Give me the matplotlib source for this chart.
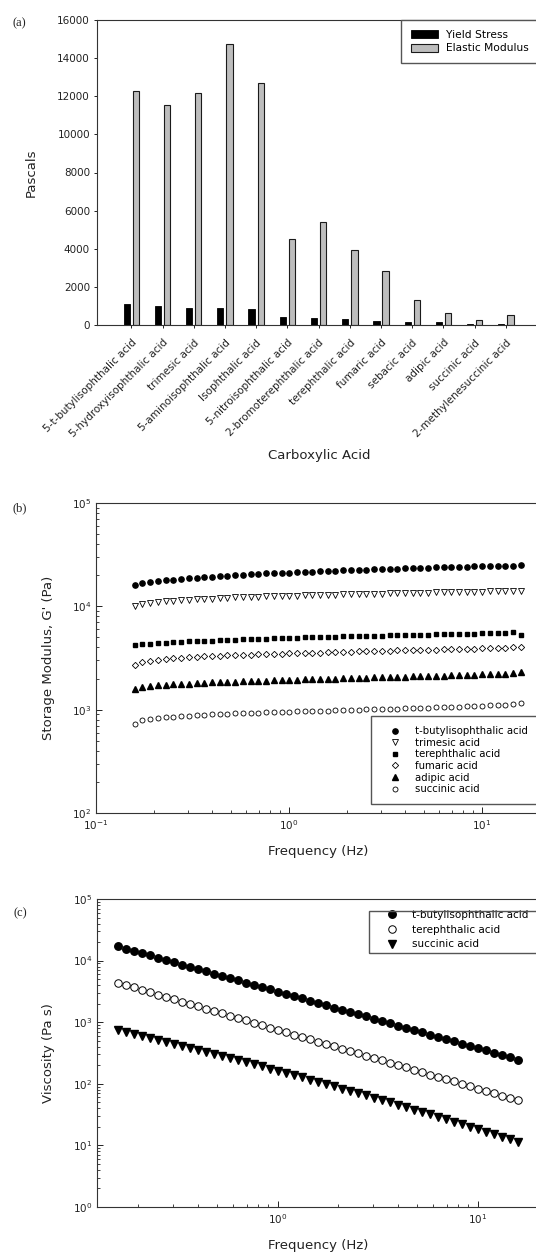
import numpy as np
import matplotlib
matplotlib.use('Agg')
import matplotlib.pyplot as plt
from matplotlib.patches import Rectangle
from matplotlib.transforms import ScaledTranslation
from matplotlib.ticker import NullFormatter

plt.rcParams['font.family'] = ['DejaVu Sans']
plt.rcParams['mathtext.default'] = 'regular'

W, H = 536, 1255

# (a) bar chart data
acids = ['5-t-butylisophthalic acid', '5-hydroxyisophthalic acid', 'trimesic acid',
         '5-aminoisophthalic acid', 'Isophthalic acid', '5-nitroisophthalic acid',
         '2-bromoterephthalic acid', 'terephthalic acid', 'fumaric acid', 'sebacic acid',
         'adipic acid', 'succinic acid', '2-methylenesuccinic acid']
yield_stress = [1100, 980, 890, 890, 820, 400, 370, 315, 190, 175, 160, 70, 50]
elastic_modulus = [12300, 11550, 12150, 14750, 12700, 4500, 5380, 3910, 2830, 1330, 650, 250, 510]

# frequency sweep (Hz), shared by (b) and (c)
freq = [0.159, 0.174, 0.191, 0.210, 0.230, 0.252, 0.276, 0.303, 0.332, 0.364,
        0.399, 0.438, 0.480, 0.527, 0.577, 0.633, 0.694, 0.761, 0.834, 0.915,
        1.00, 1.10, 1.21, 1.32, 1.45, 1.59, 1.74, 1.91, 2.10, 2.30,
        2.52, 2.76, 3.03, 3.32, 3.64, 3.99, 4.38, 4.80, 5.27, 5.77,
        6.33, 6.94, 7.61, 8.34, 9.15, 10.0, 11.0, 12.1, 13.2, 14.5, 15.9]

# (b) storage modulus G' (Pa)
g_tbutyl = [16000, 16700, 17100, 17500, 17800, 18100, 18400, 18700, 19000, 19200,
            19400, 19600, 19800, 20000, 20200, 20400, 20600, 20800, 20900, 21100,
            21200, 21400, 21500, 21700, 21800, 22000, 22100, 22300, 22400, 22500,
            22700, 22800, 22900, 23000, 23200, 23300, 23400, 23500, 23600, 23800,
            23900, 24000, 24100, 24200, 24300, 24400, 24500, 24600, 24700, 24800, 25000]
g_trimesic = [10000, 10500, 10800, 11000, 11200, 11300, 11500, 11600, 11700, 11800,
              11900, 12000, 12100, 12200, 12300, 12300, 12400, 12500, 12500, 12600,
              12700, 12700, 12800, 12900, 12900, 13000, 13000, 13100, 13100, 13200,
              13200, 13300, 13300, 13400, 13400, 13500, 13500, 13600, 13600, 13700,
              13700, 13800, 13800, 13800, 13900, 13900, 14000, 14000, 14100, 14100, 14200]
g_tereph = [4200, 4300, 4350, 4400, 4450, 4500, 4530, 4570, 4600, 4640,
            4670, 4700, 4730, 4760, 4790, 4820, 4850, 4870, 4900, 4920,
            4950, 4970, 5000, 5020, 5040, 5070, 5090, 5110, 5130, 5150,
            5170, 5190, 5210, 5230, 5250, 5270, 5290, 5310, 5330, 5350,
            5370, 5390, 5410, 5430, 5450, 5470, 5500, 5520, 5550, 5600, 5250]
g_fumaric = [2700, 2900, 2980, 3040, 3090, 3130, 3170, 3200, 3240, 3270,
             3300, 3320, 3350, 3370, 3390, 3410, 3430, 3450, 3470, 3490,
             3500, 3520, 3540, 3560, 3570, 3590, 3610, 3620, 3640, 3660,
             3670, 3690, 3700, 3720, 3740, 3750, 3770, 3780, 3800, 3820,
             3830, 3850, 3860, 3880, 3900, 3910, 3930, 3950, 3970, 4000, 4050]
g_adipic = [1600, 1660, 1690, 1720, 1740, 1760, 1780, 1790, 1810, 1820,
            1840, 1850, 1860, 1870, 1880, 1890, 1900, 1910, 1920, 1930,
            1940, 1950, 1960, 1970, 1980, 1990, 2000, 2010, 2020, 2030,
            2040, 2050, 2060, 2070, 2080, 2090, 2100, 2110, 2120, 2130,
            2140, 2150, 2160, 2170, 2180, 2190, 2200, 2210, 2220, 2250, 2300]
g_succinic = [730, 790, 810, 830, 840, 850, 860, 870, 880, 890,
              900, 905, 910, 920, 925, 930, 935, 940, 945, 950,
              955, 960, 965, 970, 975, 980, 985, 990, 995, 1000,
              1005, 1010, 1015, 1020, 1025, 1030, 1035, 1040, 1045, 1050,
              1055, 1060, 1070, 1075, 1080, 1090, 1100, 1110, 1120, 1140, 1160]

# (c) viscosity (Pa s)
eta_tbutyl = [17000, 15600, 14350, 13180, 12110, 11130, 10230, 9400, 8640, 7940,
              7300, 6700, 6160, 5660, 5200, 4780, 4400, 4040, 3710, 3410,
              3130, 2880, 2650, 2430, 2240, 2050, 1890, 1730, 1590, 1470,
              1350, 1240, 1140, 1040, 960, 880, 810, 745, 685, 630,
              578, 531, 488, 449, 412, 379, 348, 320, 294, 270, 248]
eta_tereph = [4370, 4000, 3660, 3350, 3070, 2810, 2580, 2360, 2160, 1980,
              1810, 1660, 1520, 1390, 1270, 1170, 1070, 980, 896, 820,
              752, 689, 631, 577, 528, 484, 444, 406, 372, 340,
              312, 286, 262, 239, 219, 201, 184, 169, 154, 141,
              129, 119, 109, 99, 91, 83, 76, 70, 64, 59, 54]
eta_succinic = [741, 690, 643, 598, 556, 516, 480, 445, 413, 383,
                355, 329, 305, 282, 261, 242, 223, 206, 191, 176,
                162, 150, 138, 127, 117, 108, 99, 91, 83.6, 76.8,
                70.5, 64.7, 59.3, 54.4, 49.8, 45.6, 41.7, 38.2, 34.9, 31.9,
                29.2, 26.6, 24.3, 22.2, 20.2, 18.4, 16.8, 15.3, 13.9, 12.6, 11.5]

fig = plt.figure(figsize=(W / 100, H / 100), dpi=100)
fig.patch.set_facecolor('white')

def frac(left, top, right, bottom):
    return [left / W, 1 - bottom / H, (right - left) / W, (bottom - top) / H]

label_kw = dict(fontsize=9.5, color='#222222')
tick_col = '#222222'

# ---------------- (a) ----------------
# right edge of every panel lies just outside the picture, as in the cropped original
ax1 = fig.add_axes(frac(97, 20, 548, 325))
x = np.arange(len(acids))
ax1.bar(x - 0.147, yield_stress, width=0.2, color='black', edgecolor='black',
        linewidth=0.6, label='Yield Stress')
ax1.bar(x + 0.147, elastic_modulus, width=0.2, color='#bdbdbd', edgecolor='#1a1a1a',
        linewidth=0.8, label='Elastic Modulus')
ax1.set_xlim(-1.1, 13.35)
ax1.set_ylim(0, 16000)
ax1.set_yticks(np.arange(0, 16001, 2000))
ax1.set_xticks(x)
ax1.set_xticklabels(acids, rotation=45, ha='right', va='top', rotation_mode='anchor', fontsize=7.5)
for lab in ax1.get_xticklabels():
    lab.set_transform(lab.get_transform() + ScaledTranslation(2 / 72, 0, fig.dpi_scale_trans))
ax1.tick_params(axis='x', direction='out', length=2.5, width=0.7, pad=6.5, colors=tick_col)
ax1.tick_params(axis='y', direction='out', length=2.5, width=0.7, pad=2.5, labelsize=7.5, colors=tick_col)
ax1.set_ylabel('Pascals', **label_kw)
ax1.yaxis.set_label_coords((37.6 - 97) / 451, 0.5)
ax1.set_xlabel('Carboxylic Acid', **label_kw)
ax1.xaxis.label.set_verticalalignment('center')
ax1.xaxis.set_label_coords((319 - 97) / 451, (325 - 455) / 305)
leg1 = ax1.legend(loc='upper left', bbox_to_anchor=(401 / W, 1 - 20 / H),
                  bbox_transform=fig.transFigure, borderaxespad=0, fontsize=7.7,
                  handlelength=2.6, handleheight=0.75, handletextpad=0.7,
                  labelspacing=0.35, borderpad=0.9, fancybox=False,
                  edgecolor='#555555', framealpha=1)
leg1.get_frame().set_linewidth(1.0)

# ---------------- (b) ----------------
ax2 = fig.add_axes(frac(96, 503, 548, 813))
ax2.set_xscale('log')
ax2.set_yscale('log')
ax2.plot(freq, g_tbutyl, 'o', ms=3.8, color='black', label='t-butylisophthalic acid')
ax2.plot(freq, g_trimesic, 'v', ms=3.8, mfc='white', mec='black', mew=0.6, label='trimesic acid')
ax2.plot(freq, g_tereph, 's', ms=3.4, color='black', label='terephthalic acid')
ax2.plot(freq, g_fumaric, 'D', ms=3.2, mfc='white', mec='black', mew=0.6, label='fumaric acid')
ax2.plot(freq, g_adipic, '^', ms=3.8, color='black', label='adipic acid')
ax2.plot(freq, g_succinic, 'o', ms=3.6, mfc='white', mec='black', mew=0.6, label='succinic acid')
ax2.set_xlim(0.1, 22)
ax2.set_ylim(1e2, 1e5)
ax2.set_ylabel("Storage Modulus, G' (Pa)", **label_kw)
ax2.yaxis.set_label_coords((54.7 - 96) / 452, 0.5)
ax2.set_xlabel('Frequency (Hz)', **label_kw)
ax2.xaxis.label.set_verticalalignment('center')
ax2.xaxis.set_label_coords((318 - 96) / 452, (813 - 852) / 310)
leg2 = ax2.legend(loc='upper left', bbox_to_anchor=(371 / W, 1 - 716 / H),
                  bbox_transform=fig.transFigure, borderaxespad=0, fontsize=7.3,
                  labelspacing=0.16, handlelength=2.8, handletextpad=0.5, borderpad=1.0,
                  numpoints=1, fancybox=False, edgecolor='#555555', framealpha=1)
leg2.get_frame().set_linewidth(1.0)

# ---------------- (c) ----------------
ax3 = fig.add_axes(frac(97, 899, 548, 1207))
ax3.set_xscale('log')
ax3.set_yscale('log')
ax3.plot(freq, eta_tbutyl, 'o', ms=5.4, color='black', label='t-butylisophthalic acid')
ax3.plot(freq, eta_tereph, 'o', ms=5.4, mfc='white', mec='black', mew=0.7, label='terephthalic acid')
ax3.plot(freq, eta_succinic, 'v', ms=5.4, color='black', label='succinic acid')
ax3.set_xlim(0.125, 22.5)
ax3.set_ylim(1, 1e5)
ax3.set_ylabel('Viscosity (Pa s)', **label_kw)
ax3.yaxis.set_label_coords((55.4 - 97) / 451, 0.5)
ax3.set_xlabel('Frequency (Hz)', **label_kw)
ax3.xaxis.label.set_verticalalignment('center')
ax3.xaxis.set_label_coords((318 - 97) / 451, (1207 - 1246) / 308)
leg3 = ax3.legend(loc='upper left', bbox_to_anchor=(382 / W, 1 - 910 / H),
                  bbox_transform=fig.transFigure, borderaxespad=0, fontsize=7.5,
                  labelspacing=0.45, handlelength=2.0, handletextpad=0.85, borderpad=0,
                  numpoints=1, frameon=False)
fig.add_artist(Rectangle((368.5 / W, 1 - 953.3 / H), 200 / W, 42.6 / H,
                         transform=fig.transFigure, fill=False, edgecolor='#555555',
                         linewidth=1.0))

for ax in (ax2, ax3):
    ax.tick_params(which='both', direction='in', colors=tick_col, labelsize=7.5)
    ax.tick_params(which='major', length=4, width=0.7, pad=3.5)
    ax.tick_params(which='minor', length=2.3, width=0.6)
    ax.xaxis.set_minor_formatter(NullFormatter())
    ax.yaxis.set_minor_formatter(NullFormatter())

for ax in (ax1, ax2, ax3):
    for sp in ax.spines.values():
        sp.set_linewidth(0.8)
        sp.set_color('#333333')

# panel letters
for txt, px, py in [('(a)', 19, 23), ('(b)', 20, 508), ('(c)', 20, 913)]:
    fig.text(px / W, 1 - py / H, txt, family='Liberation Serif', fontsize=9,
             ha='center', va='center', color='#222222')

fig.savefig('out.png', dpi=100)
